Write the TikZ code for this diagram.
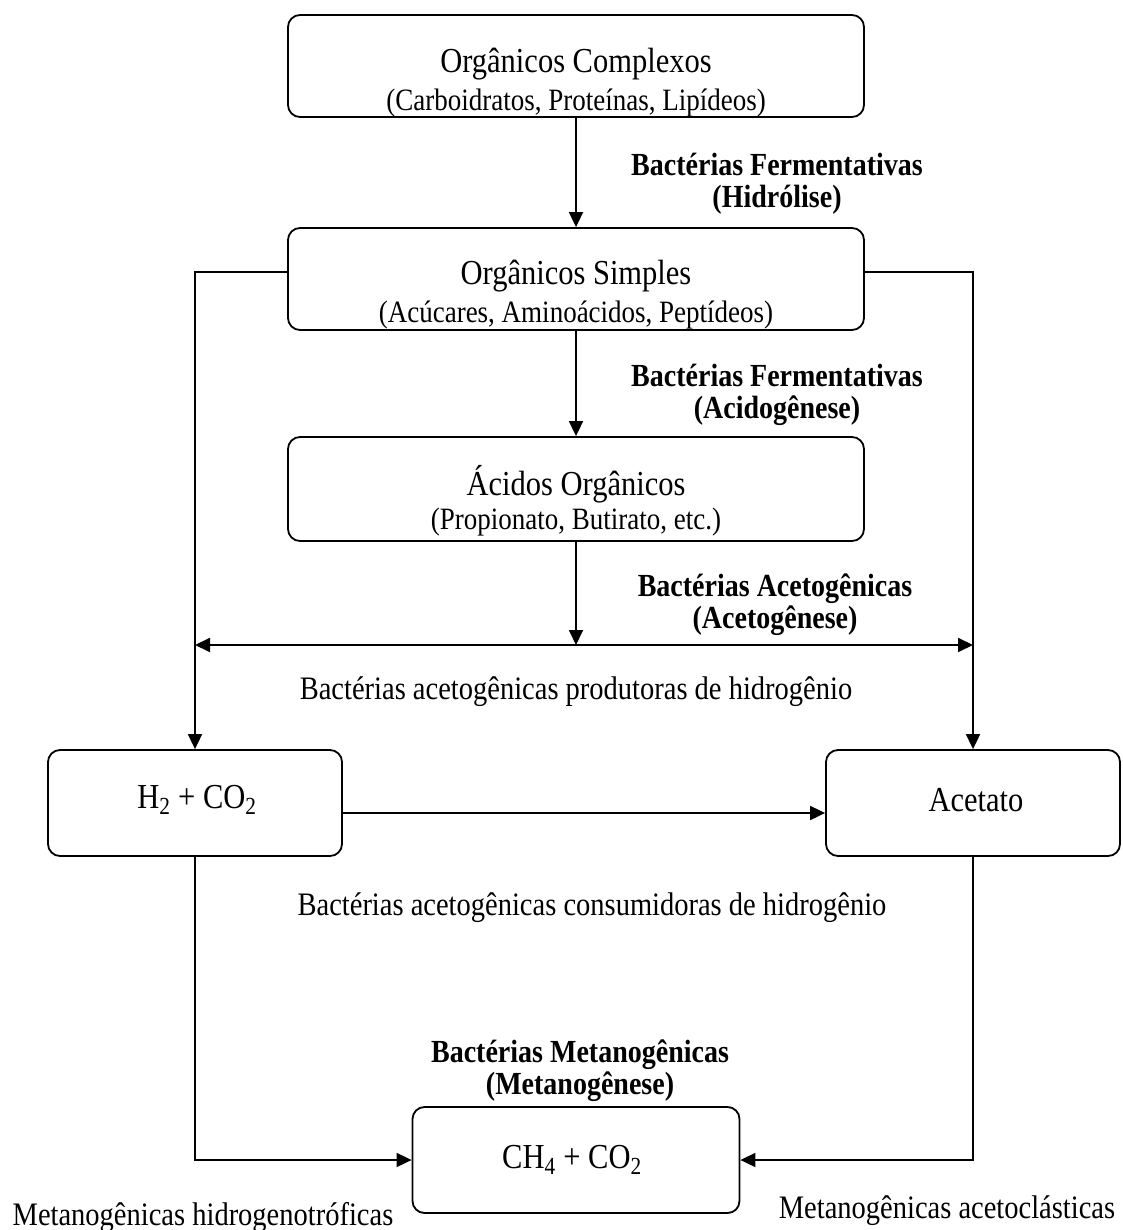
\documentclass[tikz,border=0pt]{standalone}
\usepackage{fontspec}
\setmainfont{Liberation Serif}
\usepackage{tikz}
\usetikzlibrary{arrows.meta,positioning}
\newcommand{\vstr}[1]{\scalebox{1}[1.15]{#1}}
\newcommand{\twol}[2]{\vstr{\begin{tabular}{@{}c@{}}#1\\#2\end{tabular}}}
\tikzset{
  blk/.style={draw,rounded corners=12pt,line width=1.8pt,inner sep=0pt},
  ttl/.style={font=\fontsize{30.5}{36}\selectfont,inner sep=0pt},
  subt/.style={font=\fontsize{27}{32}\selectfont,inner sep=0pt},
  lbl/.style={font=\fontsize{28.5}{34}\selectfont,inner sep=0pt},
  blbl/.style={font=\bfseries\fontsize{28}{27}\selectfont,inner sep=0pt},
  arr/.style={-{Triangle[length=15pt,width=14pt]},line width=1.8pt},
  darr/.style={{Triangle[length=15pt,width=14pt]}-{Triangle[length=15pt,width=14pt]},line width=1.8pt},
}
\begin{document}
\begin{tikzpicture}[x=1pt,y=-1pt]
\useasboundingbox (0,0) rectangle (1122,1230);
\node[blk,minimum width=576pt,minimum height=102pt] (cplx) at (576,66) {};
\node[blk,minimum width=576pt,minimum height=102pt] (simp) at (576,279) {};
\node[blk,minimum width=576pt,minimum height=104pt] (acid) at (576,489) {};
\node[blk,minimum width=294pt,minimum height=106pt] (hco) at (195,803) {};
\node[blk,minimum width=294pt,minimum height=106pt] (acet) at (973,803) {};
\node[blk,minimum width=327pt,minimum height=106pt] (chq) at (576,1160) {};

\node[ttl] (cplxa) at (576,64) {\vstr{Orgânicos Complexos}};
\node[subt] (cplxb) at (576,103) {\vstr{(Carboidratos, Proteínas, Lipídeos)}};
\node[blbl] (hidrol) at (777,185) {\twol{Bactérias Fermentativas}{(Hidrólise)}};
\node[ttl] (simpa) at (576,276) {\vstr{Orgânicos Simples}};
\node[subt] (simpb) at (576,315) {\vstr{(Acúcares, Aminoácidos, Peptídeos)}};
\node[blbl] (acidog) at (777,396) {\twol{Bactérias Fermentativas}{(Acidogênese)}};
\node[ttl] (acida) at (576,484) {\vstr{Ácidos Orgânicos}};
\node[subt] (acidb) at (576,522) {\vstr{(Propionato, Butirato, etc.)}};
\node[blbl] (acetog) at (775,606) {\twol{Bactérias Acetogênicas}{(Acetogênese)}};
\node[lbl] (prod) at (576,692) {\vstr{Bactérias acetogênicas produtoras de hidrogênio}};
\node[ttl] (hcot) at (197,800) {\vstr{H\textsubscript{2} + CO\textsubscript{2}}};
\node[ttl] (acett) at (976,800) {\vstr{Acetato}};
\node[lbl] (cons) at (592,908) {\vstr{Bactérias acetogênicas consumidoras de hidrogênio}};
\node[blbl] (metan) at (580,1072) {\twol{Bactérias Metanogênicas}{(Metanogênese)}};
\node[ttl] (chqt) at (572,1160) {\vstr{CH\textsubscript{4} + CO\textsubscript{2}}};
\node[lbl] (hidro) at (203,1217) {\vstr{Metanogênicas hidrogenotróficas}};
\node[lbl] (aceto) at (947,1211) {\vstr{Metanogênicas acetoclásticas}};

\coordinate (jn) at (576,645);
\coordinate (jl) at (195,645);
\coordinate (jr) at (973,645);
\draw[arr] (cplx) -- (simp);
\draw[arr] (simp) -- (acid);
\draw[arr] (acid) -- (jn);
\draw[darr] (jl) -- (jr);
\draw[arr] ([yshift=7pt]simp.west) -| (hco.north);
\draw[arr] ([yshift=7pt]simp.east) -| (acet.north);
\draw[arr] ([yshift=-10pt]hco.east) -- ([yshift=-10pt]acet.west);
\draw[arr] (hco.south) |- (chq.west);
\draw[arr] (acet.south) |- (chq.east);
\end{tikzpicture}
\end{document}
